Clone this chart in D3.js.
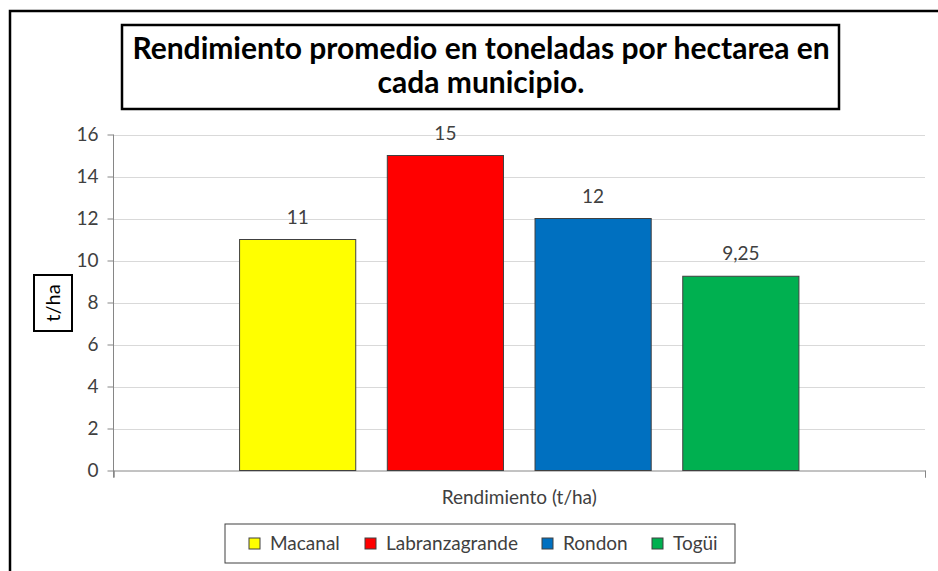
<!DOCTYPE html>
<html>
<head>
<meta charset="utf-8">
<script src="https://cdn.jsdelivr.net/npm/d3@7"></script>
<style>
  body { margin: 0; background: #fff; }
  svg text { font-family: Lato, "Open Sans", sans-serif; }
</style>
</head>
<body>
<div id="d3-container"></div>
<script>
/**
 * CONSTANTS AND GLOBALS
 * */
const width = 938,
  height = 571,
  margin = { top: 134.5, bottom: 100.5, left: 113.5, right: 13 };

// data
const category = "Rendimiento (t/ha)";
const municipios = ["Macanal", "Labranzagrande", "Rondon", "Togüi"];
const rendimiento = [11, 15, 12, 9.25];
const colores = ["#FFFF00", "#FF0000", "#0070C0", "#00B050"];
const yTicks = [0, 2, 4, 6, 8, 10, 12, 14, 16];
const titleLines = ["Rendimiento promedio en toneladas por hectarea en", "cada municipio."];

const data = municipios.map((m, i) => ({ name: m, value: rendimiento[i], color: colores[i] }));

const svg = d3
  .select("#d3-container")
  .append("svg")
  .attr("width", width)
  .attr("height", height);

// outer chart border (runs off the right / bottom of the picture)
svg.append("rect")
  .attr("x", 10)
  .attr("y", 11)
  .attr("width", 940)
  .attr("height", 580)
  .attr("fill", "none")
  .attr("stroke", "#000")
  .attr("stroke-width", 2.5);

// scales
const y = d3.scaleLinear()
  .domain([0, 16])
  .range([height - margin.bottom, margin.top]);

const x0 = d3.scaleBand()
  .domain([category])
  .range([margin.left, width - margin.right])
  .paddingOuter(0.2254);

const x1 = d3.scaleBand()
  .domain(municipios)
  .range([0, x0.bandwidth()])
  .paddingInner(0.2136);

// gridlines
svg.append("g")
  .selectAll("line")
  .data(yTicks.filter(d => d > 0))
  .join("line")
  .attr("x1", margin.left)
  .attr("x2", width - margin.right)
  .attr("y1", d => Math.round(y(d)) + 0.5)
  .attr("y2", d => Math.round(y(d)) + 0.5)
  .attr("stroke", "#D9D9D9")
  .attr("stroke-width", 1);

// y axis
const yAxis = svg.append("g")
  .attr("transform", `translate(${margin.left},0)`)
  .call(d3.axisLeft(y).tickValues(yTicks).tickSize(6).tickPadding(9));
yAxis.select(".domain").attr("stroke", "#868686").attr("d", `M-0,${y(16)}V${y(0) + 7}`);
yAxis.selectAll(".tick line").attr("stroke", "#868686");
yAxis.selectAll(".tick text")
  .attr("fill", "#404040")
  .style("font-size", "19px");

// x axis line with end ticks
const x0Axis = svg.append("g")
  .attr("transform", `translate(0,${y(0)})`)
  .call(d3.axisBottom(d3.scaleLinear().domain([0, 1]).range([margin.left, width - margin.right]))
    .tickValues([0, 1]).tickSize(7).tickFormat(""));
x0Axis.select(".domain").attr("stroke", "#868686");
x0Axis.selectAll(".tick line").attr("stroke", "#868686");

svg.append("text")
  .attr("x", x0(category) + x0.bandwidth() / 2)
  .attr("y", 504)
  .attr("text-anchor", "middle")
  .attr("fill", "#404040")
  .style("font-size", "19px")
  .text(category);

// bars
svg.append("g")
  .selectAll("rect")
  .data(data)
  .join("rect")
  .attr("x", d => x0(category) + x1(d.name))
  .attr("y", d => y(d.value))
  .attr("width", x1.bandwidth())
  .attr("height", d => y(0) - y(d.value))
  .attr("fill", d => d.color)
  .attr("stroke", "#404040")
  .attr("stroke-width", 1);

// data labels
svg.append("g")
  .selectAll("text")
  .data(data)
  .join("text")
  .attr("x", d => x0(category) + x1(d.name) + x1.bandwidth() / 2)
  .attr("y", d => y(d.value) - 16)
  .attr("text-anchor", "middle")
  .attr("fill", "#404040")
  .style("font-size", "19px")
  .text(d => String(d.value).replace(".", ","));

// title box
svg.append("rect")
  .attr("x", 122)
  .attr("y", 25)
  .attr("width", 717)
  .attr("height", 84)
  .attr("fill", "#fff")
  .attr("stroke", "#000")
  .attr("stroke-width", 2.5);

svg.append("g")
  .selectAll("text")
  .data(titleLines)
  .join("text")
  .attr("x", 481)
  .attr("y", (d, i) => 59 + i * 34)
  .attr("text-anchor", "middle")
  .attr("fill", "#000")
  .style("font-size", "30px")
  .style("font-weight", "bold")
  .text(d => d);

// y axis title in its box
svg.append("rect")
  .attr("x", 34)
  .attr("y", 275)
  .attr("width", 38)
  .attr("height", 56)
  .attr("fill", "#fff")
  .attr("stroke", "#000")
  .attr("stroke-width", 2);

svg.append("text")
  .attr("transform", "translate(60,303) rotate(-90)")
  .attr("text-anchor", "middle")
  .attr("fill", "#000")
  .style("font-size", "20px")
  .text("t/ha");

// legend
svg.append("rect")
  .attr("x", 225)
  .attr("y", 524)
  .attr("width", 510)
  .attr("height", 39)
  .attr("fill", "#fff")
  .attr("stroke", "#404040")
  .attr("stroke-width", 1);

const legendX = [249, 365, 542, 652];
const legend = svg.append("g")
  .selectAll("g")
  .data(data)
  .join("g")
  .attr("transform", (d, i) => `translate(${legendX[i]},538)`);

legend.append("rect")
  .attr("width", 11)
  .attr("height", 11)
  .attr("fill", d => d.color)
  .attr("stroke", "#404040")
  .attr("stroke-width", 1);

legend.append("text")
  .attr("x", 21)
  .attr("y", 12)
  .attr("fill", "#404040")
  .style("font-size", "19px")
  .text(d => d.name);
</script>
</body>
</html>
